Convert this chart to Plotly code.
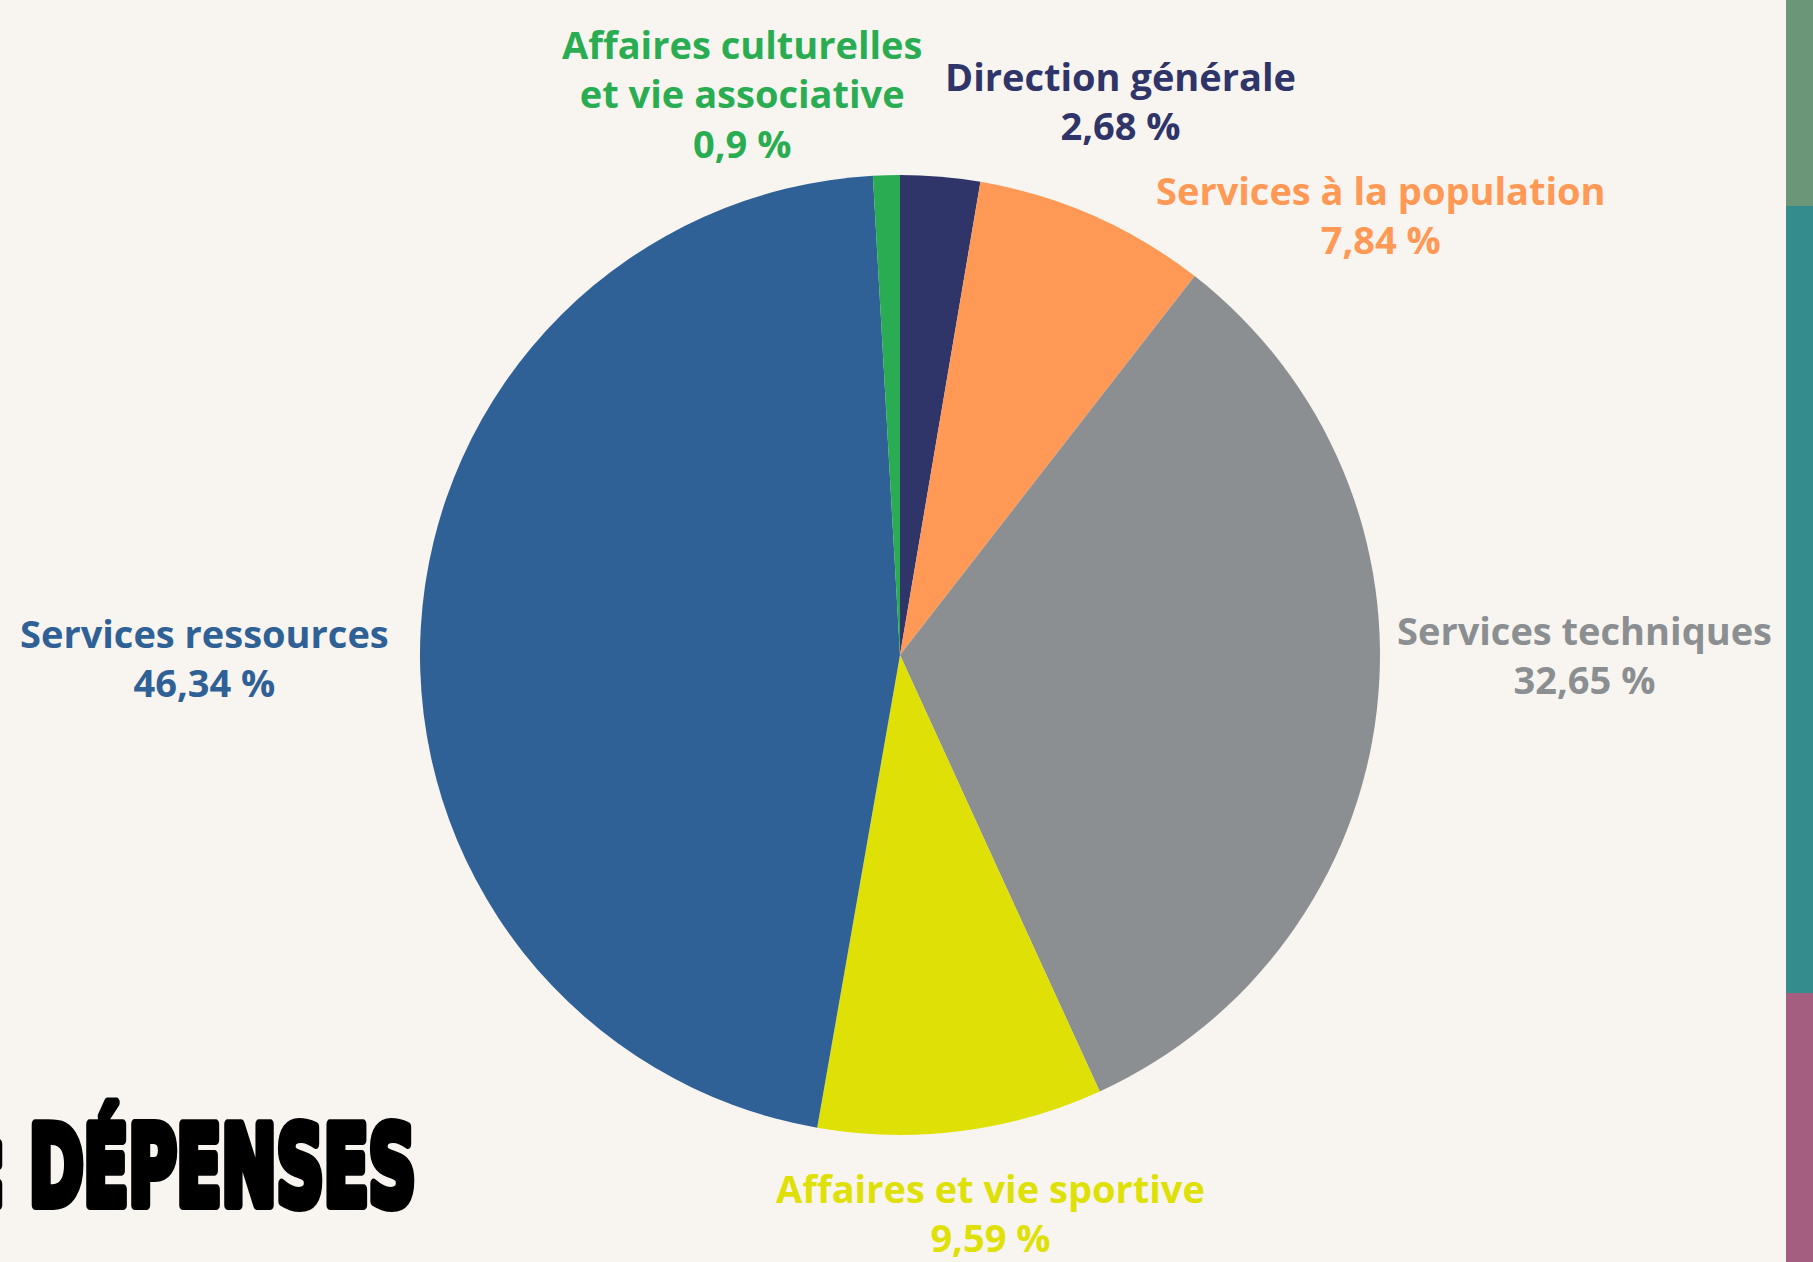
import plotly.graph_objects as go

W, H = 1813, 1262

labels = [
    "Direction générale",
    "Services à la population",
    "Services techniques",
    "Affaires et vie sportive",
    "Services ressources",
    "Affaires culturelles<br>et vie associative",
]
values = [2.68, 7.84, 32.65, 9.59, 46.34, 0.9]
colors = ["#2f3469", "#ff9955", "#8b8f92", "#dfe006", "#2f6096", "#2aad52"]

# label placement (pixel centres)
label_pos = [(1120, 101), (1381, 214), (1584, 654), (990, 1212), (204, 657), (742, 93)]

side_bar_colors = ["#6b9678", "#348c8c", "#a45e7f"]
side_bar_breaks = [0, 206, 993, 1262]


def px(x):
    return x / W


def py(y):
    return 1 - y / H


fig = go.Figure(go.Pie(
    labels=[l.replace("<br>", " ") for l in labels],
    values=values,
    marker=dict(colors=colors, line=dict(width=0)),
    sort=False,
    direction="clockwise",
    rotation=0,
    textinfo="none",
    hoverinfo="label+percent",
    showlegend=False,
    domain=dict(x=[px(900 - 480), px(900 + 480)], y=[py(655 + 480), py(655 - 480)]),
))

for i, (lab, val, col) in enumerate(zip(labels, values, colors)):
    txt = f"{lab}<br>{val:g} %".replace(".", ",")
    x, y = label_pos[i]
    fig.add_annotation(
        x=px(x), y=py(y), xref="paper", yref="paper",
        text=txt, showarrow=False, xanchor="center", yanchor="middle",
        font=dict(family="Open Sans", size=38, color=col, weight=700),
    )

fig.add_annotation(
    x=px(418), y=py(1166), xref="paper", yref="paper",
    text=": DÉPENSES", showarrow=False, xanchor="right", yanchor="middle",
    font=dict(family="DejaVu Sans Condensed, DejaVu Sans", size=110, color="#000000", weight=900),
)
title_idx = len(fig.layout.annotations) - 1

for c, y0, y1 in zip(side_bar_colors, side_bar_breaks[:-1], side_bar_breaks[1:]):
    fig.add_shape(
        type="rect", xref="paper", yref="paper",
        x0=px(1786), x1=1, y0=py(y1), y1=py(y0),
        fillcolor=c, line_width=0, layer="below",
    )

fig.update_layout(
    width=W, height=H,
    margin=dict(l=0, r=0, t=0, b=0),
    paper_bgcolor="#f8f5f0",
    plot_bgcolor="#f8f5f0",
)

# the title font is a heavy condensed face: squeeze it to its width
post = """
document.body.style.margin = '0';
var gd = document.getElementById('{plot_id}');
function squeeze(){
  var g = gd.querySelector('g.annotation[data-index="%d"]');
  if (!g) return;
  var t = g.querySelector('text.annotation-text');
  t.removeAttribute('transform');
  t.style.stroke = 'black'; t.style.strokeWidth = '10px'; t.style.strokeLinejoin = 'round';
  var b = t.getBBox();
  var k = 436 / b.width;
  var ax = b.x + b.width;
  t.setAttribute('transform', 'translate(' + ax + ',0) scale(' + k + ',1) translate(' + (-ax) + ',0)');
}
squeeze();
gd.on('plotly_afterplot', squeeze);
""" % title_idx

fig.write_html("out.html", post_script=post, config={"displayModeBar": False})
